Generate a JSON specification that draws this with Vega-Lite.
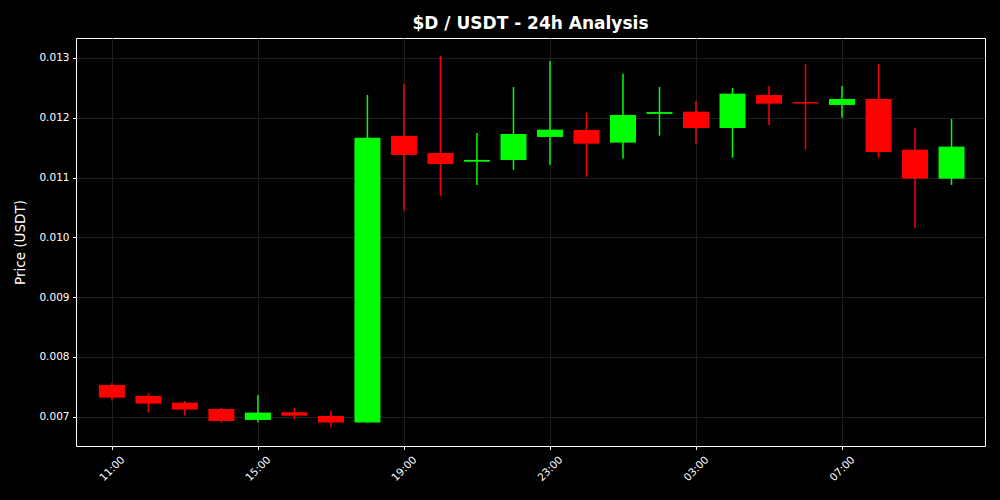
{
  "$schema": "https://vega.github.io/schema/vega-lite/v6.json",
  "width": 909,
  "height": 408,
  "autosize": "none",
  "padding": {"left": 76, "top": 38, "right": 15, "bottom": 54},
  "background": "#000000",
  "config": {
    "font": "DejaVu Sans",
    "view": {"stroke": "#ffffff", "strokeWidth": 1, "fill": "#000000"}
  },
  "title": {
    "text": "$D / USDT - 24h Analysis",
    "color": "#ffffff",
    "font": "DejaVu Sans",
    "fontSize": 17,
    "fontWeight": "bold",
    "anchor": "middle",
    "baseline": "alphabetic",
    "offset": 9,
    "dy": 17
  },
  "data": {
    "values": [
      {"t": "2024-01-01T11:00:00Z", "open": 0.007532, "high": 0.00756, "low": 0.007269, "close": 0.007319},
      {"t": "2024-01-01T12:00:00Z", "open": 0.007348, "high": 0.007393, "low": 0.007069, "close": 0.007219},
      {"t": "2024-01-01T13:00:00Z", "open": 0.007236, "high": 0.007264, "low": 0.007018, "close": 0.007119},
      {"t": "2024-01-01T14:00:00Z", "open": 0.00713, "high": 0.007147, "low": 0.006901, "close": 0.00693},
      {"t": "2024-01-01T15:00:00Z", "open": 0.006946, "high": 0.007365, "low": 0.006901, "close": 0.007069},
      {"t": "2024-01-01T16:00:00Z", "open": 0.007075, "high": 0.007147, "low": 0.006963, "close": 0.007018},
      {"t": "2024-01-01T17:00:00Z", "open": 0.007013, "high": 0.007097, "low": 0.006818, "close": 0.006901},
      {"t": "2024-01-01T18:00:00Z", "open": 0.006901, "high": 0.012381, "low": 0.006901, "close": 0.011667},
      {"t": "2024-01-01T19:00:00Z", "open": 0.011696, "high": 0.01257, "low": 0.010447, "close": 0.011378},
      {"t": "2024-01-01T20:00:00Z", "open": 0.011411, "high": 0.013038, "low": 0.010697, "close": 0.011227},
      {"t": "2024-01-01T21:00:00Z", "open": 0.011265, "high": 0.011746, "low": 0.010876, "close": 0.011295},
      {"t": "2024-01-01T22:00:00Z", "open": 0.011294, "high": 0.012515, "low": 0.011127, "close": 0.011729},
      {"t": "2024-01-01T23:00:00Z", "open": 0.011679, "high": 0.01295, "low": 0.011211, "close": 0.011801},
      {"t": "2024-01-02T00:00:00Z", "open": 0.011796, "high": 0.012085, "low": 0.011015, "close": 0.011567},
      {"t": "2024-01-02T01:00:00Z", "open": 0.011584, "high": 0.012737, "low": 0.011316, "close": 0.012047},
      {"t": "2024-01-02T02:00:00Z", "open": 0.012065, "high": 0.012515, "low": 0.011701, "close": 0.012095},
      {"t": "2024-01-02T03:00:00Z", "open": 0.012102, "high": 0.012281, "low": 0.011567, "close": 0.011829},
      {"t": "2024-01-02T04:00:00Z", "open": 0.011829, "high": 0.012498, "low": 0.011333, "close": 0.012403},
      {"t": "2024-01-02T05:00:00Z", "open": 0.012381, "high": 0.012532, "low": 0.01188, "close": 0.012236},
      {"t": "2024-01-02T06:00:00Z", "open": 0.012262, "high": 0.0129, "low": 0.011467, "close": 0.012238},
      {"t": "2024-01-02T07:00:00Z", "open": 0.012214, "high": 0.012532, "low": 0.012, "close": 0.012314},
      {"t": "2024-01-02T08:00:00Z", "open": 0.012314, "high": 0.0129, "low": 0.011333, "close": 0.011428},
      {"t": "2024-01-02T09:00:00Z", "open": 0.011467, "high": 0.011829, "low": 0.010162, "close": 0.010982},
      {"t": "2024-01-02T10:00:00Z", "open": 0.010982, "high": 0.01198, "low": 0.010876, "close": 0.011517}
    ]
  },
  "encoding": {
    "x": {
      "field": "t",
      "type": "temporal",
      "scale": {
        "type": "utc",
        "padding": 0,
        "domain": [
          {"year": 2024, "month": 1, "date": 1, "hours": 10, "minutes": 1, "utc": true},
          {"year": 2024, "month": 1, "date": 2, "hours": 10, "minutes": 55, "utc": true}
        ]
      },
      "axis": {
        "title": null,
        "format": "%H:%M",
        "values": [
          {"year": 2024, "month": 1, "date": 1, "hours": 11, "utc": true},
          {"year": 2024, "month": 1, "date": 1, "hours": 15, "utc": true},
          {"year": 2024, "month": 1, "date": 1, "hours": 19, "utc": true},
          {"year": 2024, "month": 1, "date": 1, "hours": 23, "utc": true},
          {"year": 2024, "month": 1, "date": 2, "hours": 3, "utc": true},
          {"year": 2024, "month": 1, "date": 2, "hours": 7, "utc": true}
        ],
        "labelAngle": -45,
        "labelAlign": "center",
        "labelBaseline": "middle",
        "labelColor": "#ffffff",
        "labelFontSize": 10.5,
        "labelPadding": 19,
        "labelFlush": false,
        "labelOverlap": false,
        "tickColor": "#ffffff",
        "tickSize": 3.5,
        "domain": false,
        "grid": true,
        "gridColor": "#1e1e1e",
        "gridWidth": 1
      }
    }
  },
  "layer": [
    {
      "mark": {"type": "rule", "strokeWidth": 1.5},
      "encoding": {
        "y": {
          "field": "low",
          "type": "quantitative",
          "scale": {"domain": [0.00651, 0.013334], "zero": false, "nice": false},
          "axis": {
            "title": "Price (USDT)",
            "titleColor": "#ffffff",
            "titleFontSize": 13.5,
            "titleFontWeight": "normal",
            "titlePadding": 11,
            "values": [0.007, 0.008, 0.009, 0.01, 0.011, 0.012, 0.013],
            "format": ".3f",
            "labelColor": "#ffffff",
            "labelFontSize": 10.5,
            "labelPadding": 3.5,
            "tickColor": "#ffffff",
            "tickSize": 3.5,
            "domain": false,
            "grid": true,
            "gridColor": "#1e1e1e",
            "gridWidth": 1
          }
        },
        "y2": {"field": "high"},
        "color": {
          "condition": {"test": "datum.close >= datum.open", "value": "#00ff00"},
          "value": "#ff0000"
        }
      }
    },
    {
      "mark": {"type": "bar", "size": 26},
      "encoding": {
        "y": {"field": "open", "type": "quantitative"},
        "y2": {"field": "close"},
        "color": {
          "condition": {"test": "datum.close >= datum.open", "value": "#00ff00"},
          "value": "#ff0000"
        }
      }
    }
  ]
}
